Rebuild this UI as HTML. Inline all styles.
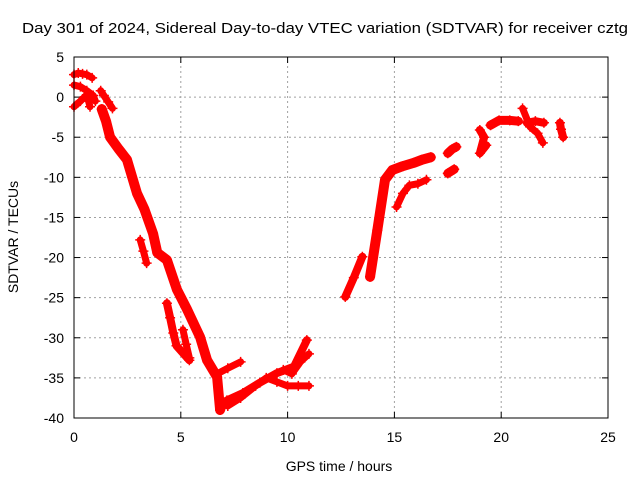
<!DOCTYPE html>
<html><head><meta charset="utf-8"><style>
body{margin:0;background:#fff}
svg text{font-family:"Liberation Sans",sans-serif;font-size:14px;fill:#000}
</style></head><body>
<svg id="c" width="640" height="480">
<text x="22" y="33" textLength="606" lengthAdjust="spacingAndGlyphs" style="font-size:15px">Day 301 of 2024, Sidereal Day-to-day VTEC variation (SDTVAR) for receiver cztg</text>
<text x="339" y="471" text-anchor="middle">GPS time / hours</text>
<text transform="translate(18,237) rotate(-90)" text-anchor="middle">SDTVAR / TECUs</text>
<g id="grid"></g><g id="ticks"></g><g id="data"></g>
<rect x="74" y="57" width="534" height="361" fill="none" stroke="#000" stroke-width="1"/>
</svg>
<script>
const xTicks=[0,5,10,15,20,25];
const yTicks=[5,0,-5,-10,-15,-20,-25,-30,-35,-40];
const trackA_x=[0,0.2,0.4,0.6,0.85];
const trackA_y=[2.8,3,2.9,2.8,2.4];
const trackB_x=[0,0.3,0.6,0.9,1.0];
const trackB_y=[1.5,1.3,0.8,0.2,-0.5];
const trackB2_x=[0,0.3,0.6,0.75];
const trackB2_y=[-1.2,-0.5,0.3,-1.2];
const trackC_x=[1.25,1.4,1.6,1.8];
const trackC_y=[0.8,0.2,-0.6,-1.4];
const trackD_x=[1.3,1.5,1.69,2.1,2.48,2.95,3.3,3.7,3.9,4.35,4.82,5.3,5.9,6.23,6.7,6.84];
const trackD_y=[-1.5,-3,-5,-6.5,-7.8,-12,-14,-17,-19.4,-20.3,-24,-26.5,-29.9,-32.8,-34.9,-39];
const trackD2_x=[6.84,7.16,7.9,8.7,9.5,10.3,10.9];
const trackD2_y=[-39,-37.8,-36.9,-35.6,-34.4,-33.6,-30.3];
const trackD3_x=[6.7,7.2,7.8];
const trackD3_y=[-34.5,-33.8,-33];
const trackD4_x=[7.2,7.8,8.5,9,9.5,10,10.5,11];
const trackD4_y=[-38.5,-37.5,-36,-35,-35.5,-36,-36,-36];
const trackD5_x=[9.8,10.2,10.6,11];
const trackD5_y=[-34,-34.5,-33,-32];
const trackS1_x=[3.1,3.25,3.4];
const trackS1_y=[-17.8,-19.2,-20.7];
const trackS2_x=[4.35,4.5,4.65,4.8,5.4];
const trackS2_y=[-25.7,-27.5,-29.4,-31,-32.8];
const trackS3_x=[5.1,5.25,5.4];
const trackS3_y=[-29,-30.8,-32.5];
const trackE_x=[12.7,13.1,13.5];
const trackE_y=[-24.9,-22.5,-19.9];
const trackF_x=[13.86,14.2,14.56,14.9,15.4,15.9,16.3,16.7];
const trackF_y=[-22.4,-16.6,-10.3,-9.1,-8.6,-8.2,-7.8,-7.5];
const trackG_x=[15.1,15.4,15.7,16.1,16.5];
const trackG_y=[-13.7,-12,-11,-10.8,-10.3];
const trackH_x=[17.5,17.7,17.9];
const trackH_y=[-7,-6.5,-6.2];
const trackH2_x=[17.5,17.8];
const trackH2_y=[-9.5,-9];
const trackI_x=[19,19.2,19,19.3];
const trackI_y=[-4.1,-5,-7,-6];
const trackJ_x=[19.5,19.9,20.4,20.8];
const trackJ_y=[-3.5,-2.9,-2.9,-3];
const trackK_x=[21.0,21.35,21.7,21.95];
const trackK_y=[-1.4,-3.7,-4.5,-5.7];
const trackL_x=[21.2,21.6,22.0];
const trackL_y=[-3.2,-3,-3.2];
const trackM_x=[22.75,22.8,22.9];
const trackM_y=[-3.2,-4,-5];
const tracksX=[trackA_x,trackB_x,trackB2_x,trackC_x,trackD_x,trackD2_x,trackD3_x,trackD4_x,trackD5_x,trackS1_x,trackS2_x,trackS3_x,trackE_x,trackF_x,trackG_x,trackH_x,trackH2_x,trackI_x,trackJ_x,trackK_x,trackL_x,trackM_x];
const tracksY=[trackA_y,trackB_y,trackB2_y,trackC_y,trackD_y,trackD2_y,trackD3_y,trackD4_y,trackD5_y,trackS1_y,trackS2_y,trackS3_y,trackE_y,trackF_y,trackG_y,trackH_y,trackH2_y,trackI_y,trackJ_y,trackK_y,trackL_y,trackM_y];
const strokeW=[7,7,7,7,10,8,7,7,7,7,8,7,8,10,7,9,9,8,9,7,8,8];

const NS='http://www.w3.org/2000/svg';
const X0=74,X1=608,Y0=418,Y1=57;
function sx(v){return X0+(v-0)/(25-0)*(X1-X0);}
function sy(v){return Y0-(v+40)/(45)*(Y0-Y1);}
function mk(t,a,p){const e=document.createElementNS(NS,t);for(const k in a)e.setAttribute(k,a[k]);p.appendChild(e);return e;}
const grid=document.getElementById('grid'),tk=document.getElementById('ticks'),dg=document.getElementById('data');
xTicks.forEach(v=>{
  const x=sx(v);
  if(v>0&&v<25){const g=mk('line',{x1:x,y1:Y0,x2:x,y2:Y1,stroke:'#a0a0a0','stroke-dasharray':'2,3'},grid);
  
  }
  const t=mk('text',{x:x,y:Y0+24,'text-anchor':'middle'},tk);t.textContent=v;
  
  
  mk('line',{x1:x,y1:Y0,x2:x,y2:Y0-6,stroke:'#000'},tk);
  mk('line',{x1:x,y1:Y1,x2:x,y2:Y1+6,stroke:'#000'},tk);
});
yTicks.forEach(v=>{
  const y=sy(v);
  if(v<5&&v>-40){const g=mk('line',{x1:X0,y1:y,x2:X1,y2:y,stroke:'#a0a0a0','stroke-dasharray':'2,3'},grid);
  
  }
  const t=mk('text',{x:X0-10,y:y+5,'text-anchor':'end'},tk);t.textContent=v;
  
  
  mk('line',{x1:X0,y1:y,x2:X0+6,y2:y,stroke:'#000'},tk);
  mk('line',{x1:X1,y1:y,x2:X1-6,y2:y,stroke:'#000'},tk);
});
tracksX.forEach((xs,i)=>{
  const ys=tracksY[i];
  const pts=xs.map((x,j)=>sx(x)+','+sy(ys[j])).join(' ');
  const pl=mk('polyline',{points:pts,fill:'none',stroke:'#ff0000','stroke-width':strokeW[i],'stroke-linejoin':'round','stroke-linecap':'round'},dg);
  
  
  xs.forEach((x,j)=>{
    const px=sx(x),py=sy(ys[j]);
    const p=mk('path',{d:`M${px-5},${py}h10M${px},${py-5}v10`,stroke:'#ff0000','stroke-width':1.5},dg);
    
    
  });
});
</script>
</body></html>
